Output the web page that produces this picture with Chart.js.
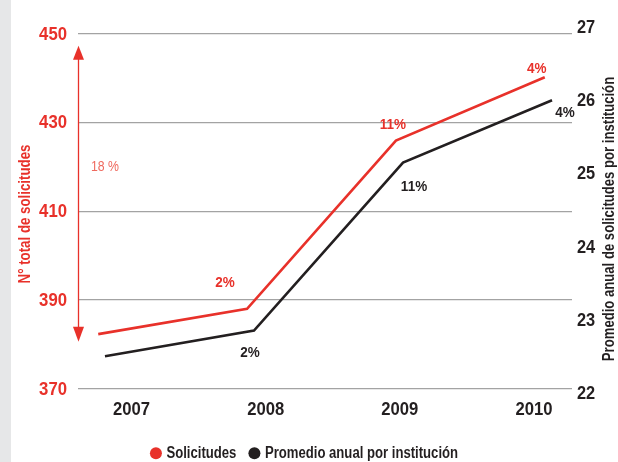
<!DOCTYPE html>
<html>
<head>
<meta charset="utf-8">
<script src="https://cdn.jsdelivr.net/npm/chart.js@4/dist/chart.umd.min.js"></script>
<style>
  html, body { margin: 0; padding: 0; background: #ffffff; }
  #wrap { position: relative; width: 618px; height: 462px; }
  #strip { position: absolute; left: 0; top: 0; width: 11px; height: 462px; background: #e6e7e8; }
  canvas { position: absolute; left: 0; top: 0; }
</style>
</head>
<body>
<div id="wrap"><div id="strip"></div><canvas id="c" width="618" height="462"></canvas></div>
<script>
// ---- data ----
const years = [2007, 2008, 2009, 2010];
const solicitudes = [382.3, 388.0, 425.9, 440.2];
const promedio = [22.52, 22.87, 25.16, 26.01];
const solicitudesChange = ['', '2%', '11%', '4%'];
const promedioChange = ['', '2%', '11%', '4%'];
const leftTicks = [370, 390, 410, 430, 450];
const rightTicks = [22, 23, 24, 25, 26, 27];
const totalChange = '18 %';
const seriesNames = ['Solicitudes', 'Promedio anual por institución'];
const leftTitle = 'N° total de solicitudes';
const rightTitle = 'Promedio anual de solicitudes por institución';

// ---- styles ----
const RED = '#e8312a';
const BLACK = '#231f20';
const FONT = "'Liberation Sans', Arial, sans-serif";
const redLabelOffsets = [[0,0], [-22,-26], [-3,-16], [-8,-8]];
const blackLabelOffsets = [[0,0], [-4,22], [11,24], [13,13]];
const arrowRange = [380.6, 447.3];

function txt(ctx, s, x, y, o) {
  ctx.save();
  ctx.font = (o.weight || 'bold') + ' ' + o.size + 'px ' + FONT;
  ctx.fillStyle = o.color;
  ctx.textAlign = o.align || 'center';
  ctx.textBaseline = 'middle';
  ctx.translate(x, y);
  if (o.rotate) ctx.rotate(o.rotate);
  ctx.scale(o.sx || 1, 1);
  ctx.fillText(s, 0, 0);
  ctx.restore();
}
function txtWidth(ctx, s, o) {
  ctx.save();
  ctx.font = (o.weight || 'bold') + ' ' + o.size + 'px ' + FONT;
  const w = ctx.measureText(s).width * (o.sx || 1);
  ctx.restore();
  return w;
}

const extras = {
  id: 'extras',
  afterDraw(chart) {
    const ctx = chart.ctx;
    const ys = chart.scales.y, ys2 = chart.scales.y2, xs = chart.scales.x;
    const area = chart.chartArea;
    // tick labels
    ys.ticks.forEach(t => txt(ctx, String(t.value), area.left - 11, ys.getPixelForValue(t.value) + 1,
      { size: 18, color: RED, align: 'right', sx: 0.93 }));
    rightTicks.forEach(v => txt(ctx, String(v), area.right + 5, ys2.getPixelForValue(v),
      { size: 18, color: BLACK, align: 'left', sx: 0.91 }));
    years.forEach(v => txt(ctx, String(v), xs.getPixelForValue(v), area.bottom + 21,
      { size: 18.5, color: BLACK, sx: 0.9 }));
    // percent labels
    const m0 = chart.getDatasetMeta(0), m1 = chart.getDatasetMeta(1);
    solicitudesChange.forEach((t, i) => {
      if (!t) return;
      const p = m0.data[i];
      txt(ctx, t, p.x + redLabelOffsets[i][0], p.y + redLabelOffsets[i][1], { size: 15, color: RED, sx: 0.9 });
    });
    promedioChange.forEach((t, i) => {
      if (!t) return;
      const p = m1.data[i];
      txt(ctx, t, p.x + blackLabelOffsets[i][0], p.y + blackLabelOffsets[i][1], { size: 15, color: BLACK, sx: 0.9 });
    });
    // arrow
    ctx.save();
    const ax = area.left + 0.5;
    const yTop = ys.getPixelForValue(arrowRange[1]);
    const yBot = ys.getPixelForValue(arrowRange[0]);
    ctx.strokeStyle = RED; ctx.fillStyle = RED; ctx.lineWidth = 1.3;
    ctx.beginPath(); ctx.moveTo(ax, yTop + 10); ctx.lineTo(ax, yBot - 10); ctx.stroke();
    ctx.beginPath(); ctx.moveTo(ax, yTop); ctx.lineTo(ax - 5.5, yTop + 14); ctx.lineTo(ax + 5.5, yTop + 14); ctx.closePath(); ctx.fill();
    ctx.beginPath(); ctx.moveTo(ax, yBot); ctx.lineTo(ax - 5.5, yBot - 15); ctx.lineTo(ax + 5.5, yBot - 15); ctx.closePath(); ctx.fill();
    ctx.restore();
    // 18 %
    txt(ctx, totalChange, 91, 167, { weight: 'normal', size: 15, color: '#ef6a5f', align: 'left', sx: 0.82 });
    // axis titles
    txt(ctx, leftTitle, 26, 214, { size: 16, color: RED, rotate: -Math.PI / 2, sx: 0.83 });
    txt(ctx, rightTitle, 610, 219, { size: 16, color: BLACK, rotate: -Math.PI / 2, sx: 0.82 });
    // legend
    const lo = { size: 16, color: BLACK, align: 'left', sx: 0.82 };
    const r = 6, gapCT = 4.5, gapItems = 12;
    const ds = chart.data.datasets;
    let total = 0;
    ds.forEach((d, i) => { total += 2 * r + gapCT + txtWidth(ctx, d.label, lo) + (i < ds.length - 1 ? gapItems : 0); });
    let lx = 304 - total / 2;
    const ly = 453.3;
    ds.forEach((d, i) => {
      ctx.save();
      ctx.fillStyle = d.borderColor;
      ctx.beginPath(); ctx.arc(lx + r, ly, r, 0, Math.PI * 2); ctx.fill();
      ctx.restore();
      lx += 2 * r + gapCT;
      txt(ctx, d.label, lx, ly, lo);
      lx += txtWidth(ctx, d.label, lo) + gapItems;
    });
  }
};

new Chart(document.getElementById('c'), {
  type: 'line',
  data: {
    datasets: [
      {
        label: seriesNames[0],
        data: years.map((y, i) => ({ x: y, y: solicitudes[i] })),
        borderColor: RED, backgroundColor: RED, borderWidth: 2.6,
        pointRadius: 0, tension: 0,
        xAxisID: 'xR', yAxisID: 'y'
      },
      {
        label: seriesNames[1],
        data: years.map((y, i) => ({ x: y, y: promedio[i] })),
        borderColor: BLACK, backgroundColor: BLACK, borderWidth: 2.6,
        pointRadius: 0, tension: 0,
        xAxisID: 'xB', yAxisID: 'y2'
      }
    ]
  },
  options: {
    responsive: false,
    animation: false,
    events: [],
    layout: { padding: { top: 33.7, left: 0, right: 0, bottom: 73.3 } },
    plugins: { legend: { display: false }, tooltip: { enabled: false } },
    scales: {
      x: { type: 'linear', display: false, min: 2006.601, max: 2010.283 },
      xR: { type: 'linear', display: false, min: 2006.864, max: 2010.183 },
      xB: { type: 'linear', display: false, min: 2006.819, max: 2010.134 },
      y: {
        position: 'left', min: 370, max: 450,
        afterBuildTicks: s => { s.ticks = leftTicks.map(v => ({ value: v })); },
        afterFit: s => { s.width = 78; },
        grid: { color: '#a3a3a3', lineWidth: 1.3, drawTicks: false },
        border: { display: false },
        ticks: { display: false }
      },
      y2: {
        position: 'right', min: 22.079, max: 26.916,
        afterBuildTicks: s => { s.ticks = rightTicks.map(v => ({ value: v })); },
        afterFit: s => { s.width = 46; },
        grid: { display: false, drawTicks: false },
        border: { display: false },
        ticks: { display: false }
      }
    }
  },
  plugins: [extras]
});
</script>
</body>
</html>
